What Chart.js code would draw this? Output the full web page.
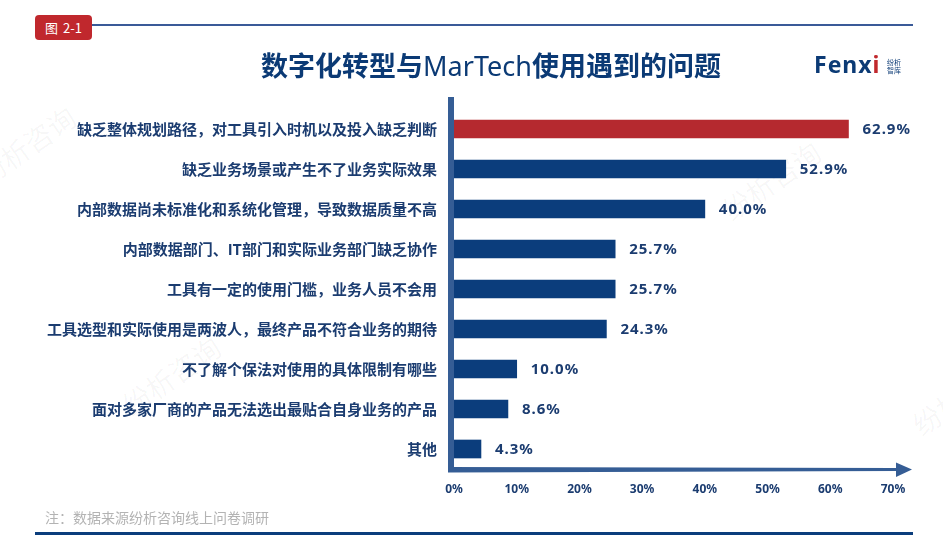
<!DOCTYPE html>
<html>
<head>
<meta charset="utf-8">
<script src="https://cdn.jsdelivr.net/npm/chart.js@4"></script>
<style>
  body { margin: 0; background: #fff; font-family: "Noto Sans CJK SC", "Noto Sans", sans-serif; }
  #wrap { position: relative; width: 943px; height: 548px; overflow: hidden; }
  #myChart { position: absolute; left: 0; top: 0; }
  .badge { position: absolute; left: 35px; top: 15px; width: 57px; height: 25px; background: #c0282d; border-radius: 4px;
           color: #fff; font-size: 13px; line-height: 25px; text-align: center; }
  .badge span { margin-left: 5px; }
  .topline { position: absolute; left: 92px; top: 24px; width: 821px; height: 2px; background: #3a5a98; }
  .title { position: absolute; left: 0; width: 982px; top: 45px; text-align: center; font-size: 27px; font-weight: bold; color: #0b3a75; }
  .title span { font-weight: normal; font-family: "Noto Sans", sans-serif; }
  .logo { position: absolute; left: 814px; top: 48px; font-family: "Noto Sans", sans-serif; font-weight: bold; font-size: 23px; color: #0b3a75; letter-spacing: 1px; }
  .logo i { font-style: normal; color: #c0282d; }
  .logo-sub { position: absolute; left: 887px; top: 58px; font-size: 7px; line-height: 8px; color: #0b3a75; }
  .note { position: absolute; left: 45px; top: 507px; font-size: 14px; color: #b3b3b3; }
  .botline { position: absolute; left: 35px; top: 532px; width: 878px; height: 3px; background: #0b3d7c; }
  .wm { position: absolute; font-size: 28px; color: rgba(0,0,0,0.04); transform: rotate(-35deg); white-space: nowrap; }
</style>
</head>
<body>
<div id="wrap">
  <div class="wm" style="left:-30px;top:125px;">纷析咨询</div>
  <div class="wm" style="left:715px;top:160px;">纷析咨询</div>
  <div class="wm" style="left:115px;top:355px;">纷析咨询</div>
  <div class="wm" style="left:905px;top:375px;">纷析咨询</div>
  <canvas id="myChart" width="943" height="548"></canvas>
  <div class="badge">图<span>2-1</span></div>
  <div class="topline"></div>
  <div class="title">数字化转型与<span>MarTech</span>使用遇到的问题</div>
  <div class="logo">Fenx<i>i</i></div>
  <div class="logo-sub">纷析<br>智库</div>
  <div class="note">注：数据来源纷析咨询线上问卷调研</div>
  <div class="botline"></div>
</div>
<script>
const categories = [
  "缺乏整体规划路径，对工具引入时机以及投入缺乏判断",
  "缺乏业务场景或产生不了业务实际效果",
  "内部数据尚未标准化和系统化管理，导致数据质量不高",
  "内部数据部门、IT部门和实际业务部门缺乏协作",
  "工具有一定的使用门槛，业务人员不会用",
  "工具选型和实际使用是两波人，最终产品不符合业务的期待",
  "不了解个保法对使用的具体限制有哪些",
  "面对多家厂商的产品无法选出最贴合自身业务的产品",
  "其他"
];
const values = [62.9, 52.9, 40.0, 25.7, 25.7, 24.3, 10.0, 8.6, 4.3];
const xTicks = [0, 10, 20, 30, 40, 50, 60, 70];

const NAVY = "#0b3d7c";
const RED = "#b5292f";
const AXIS = "#355d95";
const TEXT = "#1b3c70";

const ctx = document.getElementById('myChart').getContext('2d');

// thick axis bars + arrow, and value labels
const decor = {
  id: 'decor',
  beforeDatasetsDraw(chart) {
    const c = chart.ctx, a = chart.chartArea;
    c.save();
    c.fillStyle = AXIS;
    c.fillRect(a.left - 6, a.top - 12, 6, a.bottom - a.top + 15);
    c.beginPath();
    c.moveTo(a.left - 6, a.bottom - 2);
    c.lineTo(a.right + 3, a.bottom - 1);
    c.lineTo(a.right + 3, a.bottom - 6.5);
    c.lineTo(a.right + 19, a.bottom + 0.5);
    c.lineTo(a.right + 3, a.bottom + 8);
    c.lineTo(a.right + 3, a.bottom + 2);
    c.lineTo(a.left - 6, a.bottom + 3.5);
    c.closePath();
    c.fill();
    c.restore();
  },
  afterDatasetsDraw(chart) {
    const c = chart.ctx;
    const meta = chart.getDatasetMeta(0);
    c.save();
    c.font = 'bold 15px "Noto Sans", sans-serif';
    c.letterSpacing = '1px';
    c.fillStyle = TEXT;
    c.textBaseline = 'middle';
    c.textAlign = 'left';
    meta.data.forEach((bar, i) => {
      c.fillText(values[i].toFixed(1) + '%', bar.x + 14, bar.y + 1);
    });
    c.restore();
  }
};

new Chart(ctx, {
  type: 'bar',
  data: {
    labels: categories,
    datasets: [{
      data: values,
      backgroundColor: values.map((v, i) => i === 0 ? RED : NAVY),
      barThickness: 18
    }]
  },
  options: {
    indexAxis: 'y',
    responsive: false,
    animation: false,
    layout: { padding: { top: 109, right: 50, bottom: 0, left: 0 } },
    plugins: { legend: { display: false }, tooltip: { enabled: false } },
    scales: {
      x: {
        min: 0, max: 70,
        afterBuildTicks: s => { s.ticks = xTicks.map(v => ({ value: v })); },
        afterFit: s => { s.height = 79; },
        grid: { display: false, drawTicks: false },
        border: { display: false },
        ticks: {
          callback: v => v + '%',
          color: TEXT,
          font: { family: '"Noto Sans", sans-serif', size: 12, weight: 'bold' },
          padding: 13
        }
      },
      y: {
        afterFit: s => { s.width = 454; },
        grid: { display: false, drawTicks: false },
        border: { display: false },
        ticks: {
          color: TEXT,
          font: { family: '"Noto Sans CJK SC", sans-serif', size: 15, weight: 'bold' },
          padding: 17
        }
      }
    }
  },
  plugins: [decor]
});
</script>
</body>
</html>
